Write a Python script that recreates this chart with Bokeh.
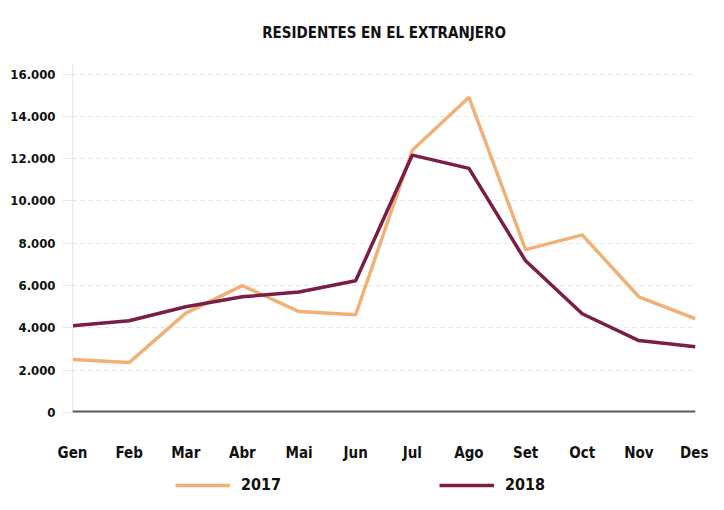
from bokeh.plotting import figure
from bokeh.layouts import column
from bokeh.models import Span, Legend, LegendItem, FixedTicker, CustomJSTickFormatter, Range1d
from bokeh.embed import file_html
from bokeh.resources import INLINE

months = ["Gen", "Feb", "Mar", "Abr", "Mai", "Jun", "Jul", "Ago", "Set", "Oct", "Nov", "Des"]
y2017 = [2500, 2360, 4700, 6000, 4770, 4620, 12400, 14900, 7700, 8400, 5470, 4430]
y2018 = [4100, 4340, 5000, 5470, 5700, 6230, 12170, 11540, 7170, 4670, 3400, 3110]
yticks = [0, 2000, 4000, 6000, 8000, 10000, 12000, 14000, 16000]
series_names = ["2017", "2018"]

FONT = "DejaVu Sans Condensed, Roboto, sans-serif"
C17 = "#f0b176"
C18 = "#7b1e47"

x = list(range(len(months)))

p = figure(width=708, height=466, output_backend="svg", toolbar_location=None,
           x_range=Range1d(0, len(months) - 1), y_range=Range1d(0, 16500),
           min_border_left=72, min_border_right=13, min_border_top=62, min_border_bottom=54)
p.outline_line_color = None
p.background_fill_color = "white"

p.title.text = "RESIDENTES EN EL EXTRANJERO"
p.title.align = "center"
p.title.text_font = FONT
p.title.text_font_style = "bold"
p.title.text_font_size = "15px"
p.title.text_color = "#111111"
p.title.standoff = 43

p.xgrid.grid_line_color = None
p.ygrid.grid_line_color = "#e2e2e2"
p.ygrid.grid_line_dash = "4 4"
p.ygrid.grid_line_width = 1

p.yaxis.ticker = FixedTicker(ticks=yticks)
p.yaxis.formatter = CustomJSTickFormatter(code="""
    return tick.toFixed(0).replace(/\\B(?=(\\d{3})+(?!\\d))/g, '.');
""")
p.yaxis.axis_line_color = "#e8e8e8"
p.yaxis.major_tick_line_color = "#e8e8e8"
p.yaxis.major_tick_in = 0
p.yaxis.major_tick_out = 10
p.yaxis.minor_tick_line_color = None
p.yaxis.major_label_text_font = FONT
p.yaxis.major_label_text_font_style = "bold"
p.yaxis.major_label_text_font_size = "13px"
p.yaxis.major_label_text_color = "#111111"
p.yaxis.major_label_standoff = 7

p.xaxis.ticker = FixedTicker(ticks=x)
p.xaxis.major_label_overrides = {i: m for i, m in enumerate(months)}
p.xaxis.axis_line_color = None
p.xaxis.major_tick_line_color = None
p.xaxis.minor_tick_line_color = None
p.xaxis.major_label_text_font = FONT
p.xaxis.major_label_text_font_style = "bold"
p.xaxis.major_label_text_font_size = "15px"
p.xaxis.major_label_text_color = "#111111"
p.xaxis.major_label_standoff = 25

base = Span(location=0, dimension="width", line_color="#5a5a5a", line_width=4)
p.add_layout(base)

p.line(x, y2017, line_color=C17, line_width=3.5)
p.line(x, y2018, line_color=C18, line_width=3.5)

# legend strip below the chart (same series, drawn out of view, used only for the key)
lg = figure(width=708, height=28, output_backend="svg", toolbar_location=None,
            x_range=Range1d(0, len(months) - 1), y_range=Range1d(-2, -1),
            x_axis_location=None, y_axis_location=None,
            min_border_left=0, min_border_right=0, min_border_top=0, min_border_bottom=0)
lg.outline_line_color = None
lg.grid.visible = False
k17 = lg.line(x, y2017, line_color=C17, line_width=3.5)
k18 = lg.line(x, y2018, line_color=C18, line_width=3.5)

legend = Legend(items=[LegendItem(label=series_names[0], renderers=[k17]),
                       LegendItem(label=series_names[1], renderers=[k18])],
                orientation="horizontal", location=(103, 0),
                glyph_width=55, glyph_height=14, label_standoff=11, spacing=158,
                label_text_font=FONT, label_text_font_style="bold",
                label_text_font_size="16px", label_text_color="#111111",
                border_line_color=None, background_fill_alpha=0,
                padding=0, margin=0)
lg.add_layout(legend)

layout = column(p, lg, spacing=0)
open("out.html", "w").write(file_html(layout, INLINE))
